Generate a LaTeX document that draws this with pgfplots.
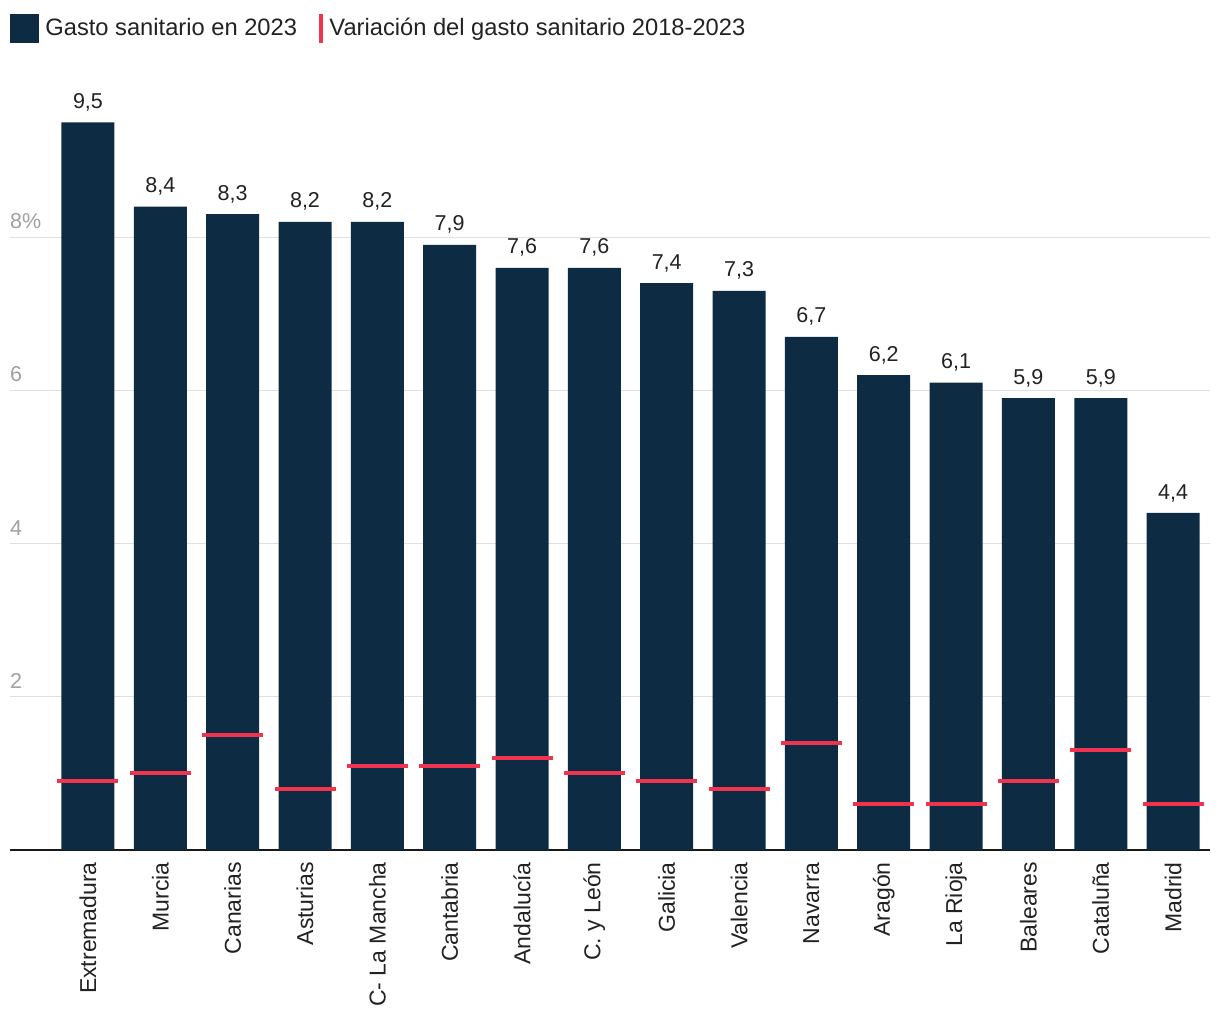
\documentclass[border=0pt]{standalone}
\usepackage{pgfplots}
\pgfplotsset{compat=1.18}
\usepackage{fontspec}
\setmainfont{Liberation Sans}
\definecolor{barcol}{HTML}{0D2B42}
\definecolor{redcol}{HTML}{F0344F}
\definecolor{gridcol}{HTML}{E0E0E0}
\definecolor{tickcol}{HTML}{A0A0A0}
\definecolor{txtcol}{HTML}{222222}
\begin{document}
\begin{tikzpicture}
\useasboundingbox (-10pt,-170pt) rectangle (1210pt,850pt);
\begin{axis}[
  scale only axis, width=1200pt, height=766pt,
  at={(0pt,0pt)}, anchor=south west,
  xmin=-1.078, xmax=15.51, ymin=0, ymax=10,
  clip=false,
  /pgf/number format/assume math mode=true,
  axis x line*=bottom, axis y line*=left,
  x axis line style={black!90, line width=1.6pt, -},
  y axis line style={draw=none},
  major tick length=0pt,
  xtick={0,...,15},
  xticklabels={Extremadura,Murcia,Canarias,Asturias,C- La Mancha,Cantabria,Andalucía,C. y León,Galicia,Valencia,Navarra,Aragón,La Rioja,Baleares,Cataluña,Madrid},
  xticklabel style={rotate=90, anchor=east, inner sep=0pt, font=\fontsize{23}{23}\selectfont, text=txtcol},
  xticklabel shift=12pt,
  ytick={2,4,6,8},
  yticklabels={2,4,6,8\%},
  yticklabel style={anchor=south west, inner sep=0pt, xshift=0pt, yshift=8pt, font=\fontsize{21.5}{21.5}\selectfont, text=tickcol},
  yticklabel shift=0pt,
  ymajorgrids,
  grid style={gridcol, line width=1.2pt},
  legend columns=2,
  legend style={at={(0,1)}, anchor=west, yshift=56pt, draw=none, fill=none, inner sep=0pt, outer sep=0pt,
    nodes={inner sep=0pt, font=\fontsize{23.7}{23.7}\selectfont, text=txtcol},
    /tikz/every odd column/.append style={column sep=7pt},
    /tikz/every even column/.append style={column sep=22pt}},
]
\addlegendimage{legend image code/.code={\fill[barcol] (0pt,-14pt) rectangle (28pt,14pt);}}
\addlegendentry{Gasto sanitario en 2023}
\addlegendimage{legend image code/.code={\fill[redcol] (0pt,-14pt) rectangle (3pt,14pt);}}
\addlegendentry{Variación del gasto sanitario 2018-2023}

\addplot[ybar, bar width=53pt, fill=barcol, draw=none, forget plot,
  nodes near coords,
  nodes near coords style={font=\fontsize{21.5}{21.5}\selectfont, text=txtcol, inner sep=0pt, anchor=south, yshift=11pt,
    /pgf/number format/.cd, fixed, fixed zerofill, precision=1, use comma, assume math mode=true}]
coordinates {(0,9.5) (1,8.4) (2,8.3) (3,8.2) (4,8.2) (5,7.9) (6,7.6) (7,7.6) (8,7.4) (9,7.3) (10,6.7) (11,6.2) (12,6.1) (13,5.9) (14,5.9) (15,4.4)};

\addplot[only marks, mark=-, mark size=30.5pt, color=redcol, mark options={line width=4pt}, forget plot]
coordinates {(0,0.9) (1,1.0) (2,1.5) (3,0.8) (4,1.1) (5,1.1) (6,1.2) (7,1.0) (8,0.9) (9,0.8) (10,1.4) (11,0.6) (12,0.6) (13,0.9) (14,1.3) (15,0.6)};
\end{axis}
\end{tikzpicture}
\end{document}
